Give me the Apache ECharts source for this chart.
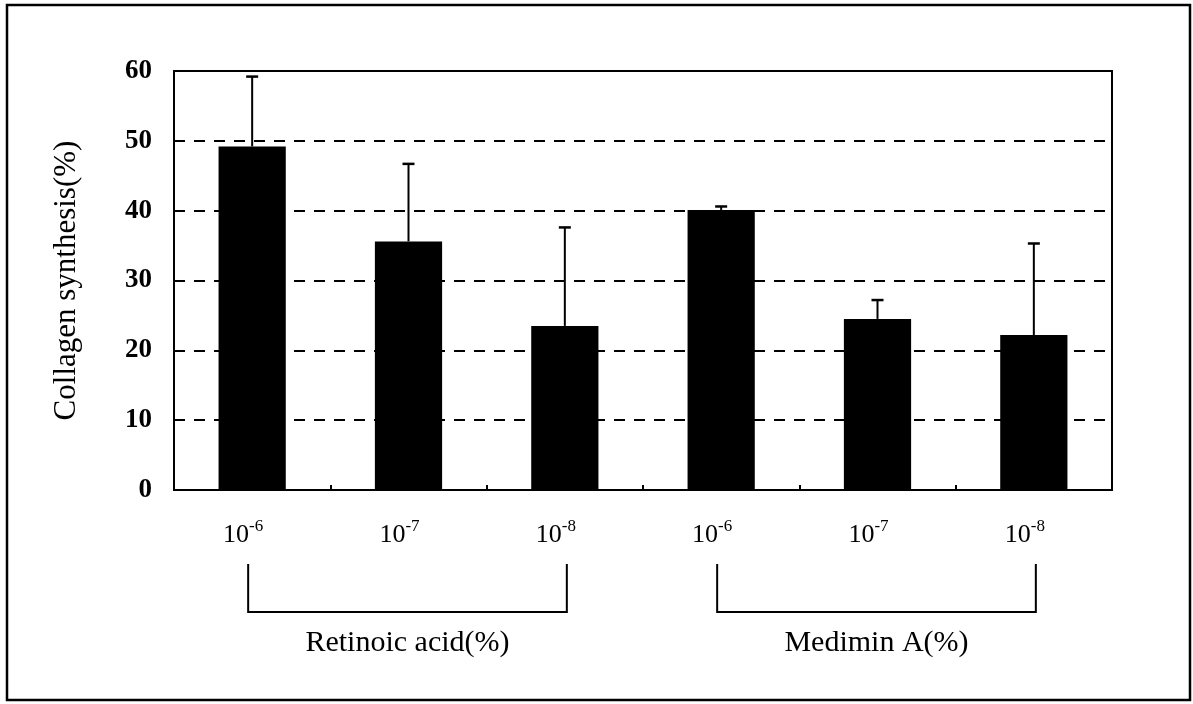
<!DOCTYPE html>
<html>
<head>
<meta charset="utf-8">
<script src="https://cdn.jsdelivr.net/npm/echarts@6/dist/echarts.min.js"></script>
<style>
html,body{margin:0;padding:0;background:#fff;}
#chart{width:1193px;height:704px;}
</style>
</head>
<body>
<div id="chart"></div>
<script>
// ---- data ----
var categories = ['RA_6', 'RA_7', 'RA_8', 'MA_6', 'MA_7', 'MA_8'];
var exponents = ['-6', '-7', '-8', '-6', '-7', '-8'];
var values = [49.2, 35.6, 23.5, 40.1, 24.5, 22.2];
var errors = [10.0, 11.1, 14.1, 0.5, 2.7, 13.1];
var groupNames = ['Retinoic acid(%)', 'Medimin A(%)'];
var groupSpans = [[0, 2], [3, 5]];
var yTicks = [0, 10, 20, 30, 40, 50, 60];
var yAxisTitle = 'Collagen synthesis(%)';

var FONT = '"Liberation Serif", "Times New Roman", serif';
var chart = echarts.init(document.getElementById('chart'), null, {renderer: 'canvas'});

var option = {
  animation: false,
  backgroundColor: '#fff',
  grid: {
    left: 174, top: 71, right: 81, bottom: 214,
    show: true, borderColor: '#000', borderWidth: 2, backgroundColor: 'transparent'
  },
  xAxis: {
    type: 'category',
    data: categories,
    axisLine: {lineStyle: {color: '#000', width: 2}},
    axisTick: {show: true, inside: true, length: 5, interval: 0, lineStyle: {color: '#000', width: 2}},
    axisLabel: {
      interval: 0,
      hideOverlap: false,
      margin: 28,
      fontFamily: FONT,
      fontSize: 26,
      color: '#000',
      padding: [0, 18, 0, 0],
      formatter: function (v, i) { return '{b|10}{s|' + exponents[i] + '}'; },
      rich: {
        b: {fontFamily: FONT, fontSize: 26, color: '#000', verticalAlign: 'bottom', lineHeight: 30},
        s: {fontFamily: FONT, fontSize: 17, color: '#000', verticalAlign: 'top', padding: [0, 0, 12, 0], lineHeight: 30}
      }
    },
    splitLine: {show: false}
  },
  yAxis: {
    type: 'value',
    min: 0, max: 60, interval: 10,
    name: yAxisTitle,
    nameLocation: 'middle',
    nameGap: 92,
    nameRotate: 90,
    nameTextStyle: {fontFamily: FONT, fontSize: 31, color: '#000'},
    axisLine: {show: true, lineStyle: {color: '#000', width: 2}},
    axisTick: {show: false},
    axisLabel: {
      margin: 22, fontFamily: FONT, fontSize: 27, fontWeight: 'bold', color: '#000',
      formatter: function (v) { return yTicks.indexOf(v) >= 0 ? String(v) : ''; }
    },
    splitLine: {show: true, lineStyle: {color: '#000', width: 2, type: [11, 9]}}
  },
  series: [
    {
      type: 'bar',
      data: values,
      barWidth: '43%',
      itemStyle: {color: '#000'},
      z: 3
    },
    {
      type: 'custom',
      z: 4,
      data: values.map(function (v, i) { return [i, v, v + errors[i]]; }),
      renderItem: function (params, api) {
        var x = api.value(0);
        var p0 = api.coord([x, api.value(1)]);
        var p1 = api.coord([x, api.value(2)]);
        var cap = 6;
        return {
          type: 'group',
          children: [
            {type: 'line', shape: {x1: p0[0], y1: p0[1], x2: p1[0], y2: p1[1]}, style: {stroke: '#000', lineWidth: 2}},
            {type: 'line', shape: {x1: p1[0] - cap, y1: p1[1], x2: p1[0] + cap, y2: p1[1]}, style: {stroke: '#000', lineWidth: 2.5}}
          ]
        };
      }
    }
  ]
};
chart.setOption(option);

// brackets + group labels placed from the category axis
var elements = [
  {type: 'rect', shape: {x: 7, y: 5, width: 1183, height: 695}, style: {fill: 'none', stroke: '#000', lineWidth: 2.5}, silent: true}
];
groupSpans.forEach(function (span, g) {
  var xa = chart.convertToPixel({xAxisIndex: 0}, span[0]) - 4;
  var xb = chart.convertToPixel({xAxisIndex: 0}, span[1]) + 2;
  var yTop = 564, yBot = 612;
  elements.push({
    type: 'polyline',
    shape: {points: [[xa, yTop], [xa, yBot], [xb, yBot], [xb, yTop]]},
    style: {fill: 'none', stroke: '#000', lineWidth: 2},
    silent: true
  });
  elements.push({
    type: 'text',
    x: (xa + xb) / 2, y: 643,
    style: {text: groupNames[g], fontFamily: FONT, fontSize: 30, fill: '#000', align: 'center', verticalAlign: 'middle'},
    silent: true
  });
});
chart.setOption({graphic: {elements: elements}});
</script>
</body>
</html>
